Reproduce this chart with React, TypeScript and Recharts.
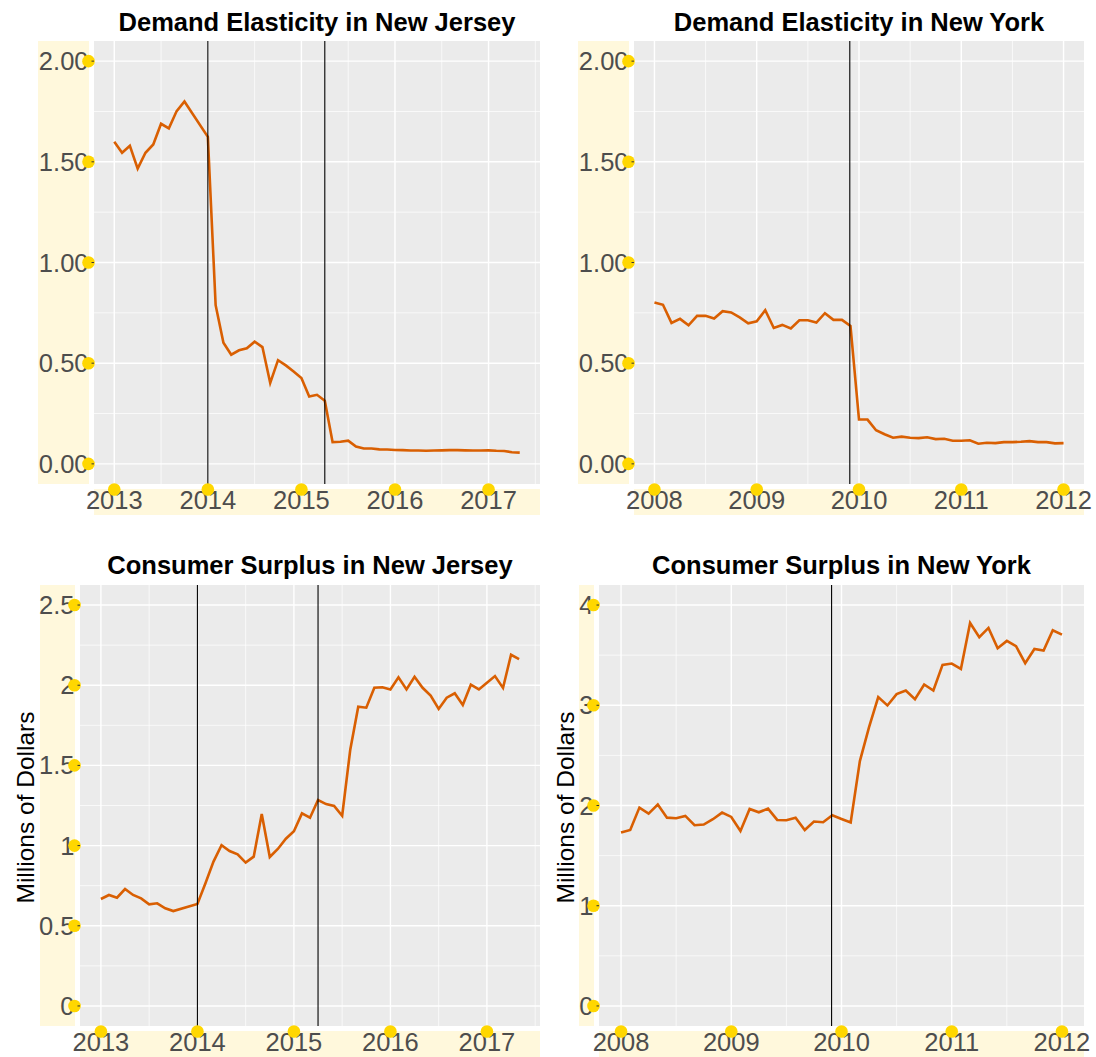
import React from 'react';
import { LineChart, Line, XAxis, YAxis, CartesianGrid, ReferenceLine } from 'recharts';

// New Jersey: monthly, Nov/Dec 2013 missing
const njMonths = [
  '2013-01', '2013-02', '2013-03', '2013-04', '2013-05', '2013-06', '2013-07', '2013-08', '2013-09', '2013-10',
  '2014-01', '2014-02', '2014-03', '2014-04', '2014-05', '2014-06', '2014-07', '2014-08', '2014-09', '2014-10', '2014-11', '2014-12',
  '2015-01', '2015-02', '2015-03', '2015-04', '2015-05', '2015-06', '2015-07', '2015-08', '2015-09', '2015-10', '2015-11', '2015-12',
  '2016-01', '2016-02', '2016-03', '2016-04', '2016-05', '2016-06', '2016-07', '2016-08', '2016-09', '2016-10', '2016-11', '2016-12',
  '2017-01', '2017-02', '2017-03', '2017-04', '2017-05',
];
const njElasticity = [
  1.6, 1.545, 1.58, 1.466, 1.545, 1.586, 1.689, 1.666, 1.752, 1.8,
  1.624, 0.788, 0.602, 0.542, 0.564, 0.574, 0.607, 0.58, 0.402, 0.515, 0.489, 0.459,
  0.426, 0.334, 0.343, 0.314, 0.108, 0.11, 0.115, 0.086, 0.076, 0.076, 0.072, 0.071,
  0.069, 0.068, 0.066, 0.066, 0.065, 0.066, 0.067, 0.068, 0.068, 0.067, 0.066, 0.066,
  0.067, 0.065, 0.064, 0.058, 0.056,
];
const njSurplus = [
  0.667, 0.692, 0.675, 0.729, 0.692, 0.671, 0.634, 0.64, 0.609, 0.592,
  0.636, 0.765, 0.9, 1.002, 0.966, 0.946, 0.894, 0.931, 1.197, 0.929, 0.979, 1.043,
  1.089, 1.201, 1.174, 1.284, 1.259, 1.247, 1.186, 1.596, 1.866, 1.86, 1.984, 1.987,
  1.974, 2.049, 1.974, 2.053, 1.984, 1.935, 1.852, 1.922, 1.95, 1.877, 2.003, 1.974,
  2.016, 2.057, 1.983, 2.19, 2.163,
];

// New York: monthly Jan 2008 - Jan 2012
const nyMonths = [
  '2008-01', '2008-02', '2008-03', '2008-04', '2008-05', '2008-06', '2008-07', '2008-08', '2008-09', '2008-10', '2008-11', '2008-12',
  '2009-01', '2009-02', '2009-03', '2009-04', '2009-05', '2009-06', '2009-07', '2009-08', '2009-09', '2009-10', '2009-11', '2009-12',
  '2010-01', '2010-02', '2010-03', '2010-04', '2010-05', '2010-06', '2010-07', '2010-08', '2010-09', '2010-10', '2010-11', '2010-12',
  '2011-01', '2011-02', '2011-03', '2011-04', '2011-05', '2011-06', '2011-07', '2011-08', '2011-09', '2011-10', '2011-11', '2011-12',
  '2012-01',
];
const nyElasticity = [
  0.801, 0.79, 0.7, 0.72, 0.688, 0.735, 0.735, 0.722, 0.758, 0.752, 0.727, 0.698,
  0.708, 0.763, 0.675, 0.69, 0.672, 0.713, 0.713, 0.702, 0.748, 0.715, 0.715, 0.685,
  0.22, 0.22, 0.167, 0.147, 0.13, 0.135, 0.13, 0.128, 0.132, 0.123, 0.125, 0.115,
  0.115, 0.117, 0.1, 0.105, 0.103, 0.108, 0.108, 0.11, 0.113, 0.108, 0.108, 0.102,
  0.103,
];
const nySurplus = [
  1.73, 1.756, 1.979, 1.919, 2.009, 1.879, 1.873, 1.896, 1.803, 1.81, 1.863, 1.929,
  1.886, 1.746, 1.965, 1.932, 1.969, 1.856, 1.853, 1.879, 1.756, 1.84, 1.833, 1.902,
  1.866, 1.83, 2.443, 2.782, 3.081, 2.998, 3.111, 3.147, 3.061, 3.207, 3.147, 3.403,
  3.416, 3.363, 3.821, 3.679, 3.772, 3.569, 3.642, 3.589, 3.42, 3.562, 3.546, 3.748,
  3.705,
];

const njYears = [2013, 2014, 2015, 2016, 2017];
const nyYears = [2008, 2009, 2010, 2011, 2012];
const elasticityTicks = [0, 0.5, 1, 1.5, 2];
const njSurplusTicks = [0, 0.5, 1, 1.5, 2, 2.5];
const nySurplusTicks = [0, 1, 2, 3, 4];
const njPolicyDates = [2014, 2015.25];
const nyPolicyDates = [2009.91];

const FONT = '"Liberation Sans", Arial, Helvetica, sans-serif';
const LINE = '#D95F02';

const toYear = (m: string) => {
  const [y, mo] = m.split('-').map(Number);
  return y + (mo - 1) / 12;
};

const minorOf = (ticks: number[], lo: number, hi: number) => {
  const step = ticks[1] - ticks[0];
  const out = [ticks[0] - step / 2, ...ticks.map((t) => t + step / 2)];
  return out.filter((v) => v > lo && v < hi);
};

const makeYTick = (fmt: (v: number) => string) => (props: any) => {
  const { x, y, payload } = props;
  return (
    <g>
      <text x={x - 5.5} y={y + 9} textAnchor="end" fontSize={25.5} fill="#4D4D4D" fontFamily={FONT}>
        {fmt(payload.value)}
      </text>
      <circle cx={x - 5.5} cy={y} r={6.3} fill="#FFD700" />
      <line x1={x - 2.5} x2={x} y1={y} y2={y} stroke="#333333" strokeWidth={1} />
    </g>
  );
};

const XTick = (props: any) => {
  const { x, y, payload } = props;
  return (
    <g>
      <text x={x} y={y + 25} textAnchor="middle" fontSize={25.5} fill="#4D4D4D" fontFamily={FONT}>
        {payload.value}
      </text>
      <circle cx={x} cy={y + 5.5} r={6.3} fill="#FFD700" />
    </g>
  );
};

type Box = { l: number; t: number; r: number; b: number };

interface PanelProps {
  left: number;
  top: number;
  width: number;
  height: number;
  plot: Box;
  title: string;
  titleTop: number;
  months: string[];
  values: number[];
  xTicks: number[];
  yTicks: number[];
  fmt: (v: number) => string;
  vlines: number[];
  yStripW: number;
}

function Panel(p: PanelProps) {
  const data = p.months.map((m, i) => ({ t: toYear(m), v: p.values[i] }));
  const ts = data.map((d) => d.t);
  const tMin = Math.min(...ts);
  const tMax = Math.max(...ts);
  const xPad = (tMax - tMin) * 0.05;
  const xDomain = [tMin - xPad, tMax + xPad];
  const yMax = p.yTicks[p.yTicks.length - 1];
  const yPad = yMax * 0.05;
  const yDomain = [-yPad, yMax + yPad];

  const pl = p.plot.l - p.left;
  const pt = p.plot.t - p.top;
  const pr = p.plot.r - p.left;
  const pb = p.plot.b - p.top;
  const xAxisH = 30;

  return (
    <div style={{ position: 'absolute', left: p.left, top: p.top, width: p.width, height: p.height }}>
      <div
        style={{
          position: 'absolute', left: pl, width: pr - pl, top: p.titleTop - p.top, textAlign: 'center',
          fontSize: 25.5, lineHeight: '25px', fontWeight: 'bold', color: '#000', fontFamily: FONT,
          whiteSpace: 'nowrap',
        }}
      >
        {p.title}
      </div>
      <div style={{ position: 'absolute', left: pl - 5 - p.yStripW, width: p.yStripW, top: pt, height: pb - pt, background: '#FFF8DC' }} />
      <div style={{ position: 'absolute', left: pl, width: pr - pl, top: pb + 5, height: 26, background: '#FFF8DC' }} />
      <LineChart
        width={p.width}
        height={p.height}
        data={data}
        margin={{ top: pt, right: p.width - pr, bottom: p.height - pb - xAxisH, left: 0 }}
      >
        <CartesianGrid
          fill="#EBEBEB"
          stroke="#FFFFFF"
          strokeWidth={0.7}
          horizontalValues={minorOf(p.yTicks, yDomain[0], yDomain[1])}
          verticalValues={minorOf(p.xTicks, xDomain[0], xDomain[1])}
        />
        <CartesianGrid stroke="#FFFFFF" strokeWidth={1.4} horizontalValues={p.yTicks} verticalValues={p.xTicks} />
        <XAxis
          type="number"
          dataKey="t"
          domain={xDomain}
          ticks={p.xTicks}
          interval={0}
          height={xAxisH}
          axisLine={false}
          tickLine={false}
          tickSize={0}
          tickMargin={0}
          tick={XTick}
        />
        <YAxis
          type="number"
          domain={yDomain}
          ticks={p.yTicks}
          interval={0}
          width={pl}
          axisLine={false}
          tickLine={false}
          tickSize={0}
          tickMargin={0}
          tick={makeYTick(p.fmt)}
        />
        <Line type="linear" dataKey="v" stroke={LINE} strokeWidth={2.6} dot={false} isAnimationActive={false} />
        {p.vlines.map((v) => (
          <ReferenceLine key={v} x={v} stroke="#000000" strokeWidth={1.1} />
        ))}
      </LineChart>
    </div>
  );
}

const fixed2 = (v: number) => v.toFixed(2);
const plain = (v: number) => String(v);

function YLabel({ cx, cy, text }: { cx: number; cy: number; text: string }) {
  return (
    <div
      style={{
        position: 'absolute', left: cx - 150, top: cy - 12.5, width: 300, height: 25,
        lineHeight: '25px', textAlign: 'center', fontSize: 24.5, fontFamily: FONT, color: '#000',
        transform: 'rotate(-90deg)', whiteSpace: 'nowrap',
      }}
    >
      {text}
    </div>
  );
}

export default function App() {
  return (
    <div style={{ position: 'absolute', left: 0, top: 0, width: 1096, height: 1057, background: '#fff', fontFamily: FONT }}>
      <Panel
        left={0} top={0} width={548} height={530}
        plot={{ l: 94, t: 41, r: 540, b: 484 }}
        title="Demand Elasticity in New Jersey" titleTop={10}
        months={njMonths} values={njElasticity}
        xTicks={njYears} yTicks={elasticityTicks} fmt={fixed2}
        vlines={njPolicyDates} yStripW={51}
      />
      <Panel
        left={548} top={0} width={548} height={530}
        plot={{ l: 634, t: 41, r: 1084, b: 484 }}
        title="Demand Elasticity in New York" titleTop={10}
        months={nyMonths} values={nyElasticity}
        xTicks={nyYears} yTicks={elasticityTicks} fmt={fixed2}
        vlines={nyPolicyDates} yStripW={51}
      />
      <Panel
        left={0} top={544} width={548} height={513}
        plot={{ l: 80, t: 585, r: 540, b: 1026 }}
        title="Consumer Surplus in New Jersey" titleTop={553}
        months={njMonths} values={njSurplus}
        xTicks={njYears} yTicks={njSurplusTicks} fmt={plain}
        vlines={njPolicyDates} yStripW={35}
      />
      <Panel
        left={548} top={544} width={548} height={513}
        plot={{ l: 599, t: 585, r: 1084, b: 1026 }}
        title="Consumer Surplus in New York" titleTop={553}
        months={nyMonths} values={nySurplus}
        xTicks={nyYears} yTicks={nySurplusTicks} fmt={plain}
        vlines={nyPolicyDates} yStripW={15}
      />
      <YLabel cx={25} cy={807} text="Millions of Dollars" />
      <YLabel cx={565} cy={807} text="Millions of Dollars" />
    </div>
  );
}
